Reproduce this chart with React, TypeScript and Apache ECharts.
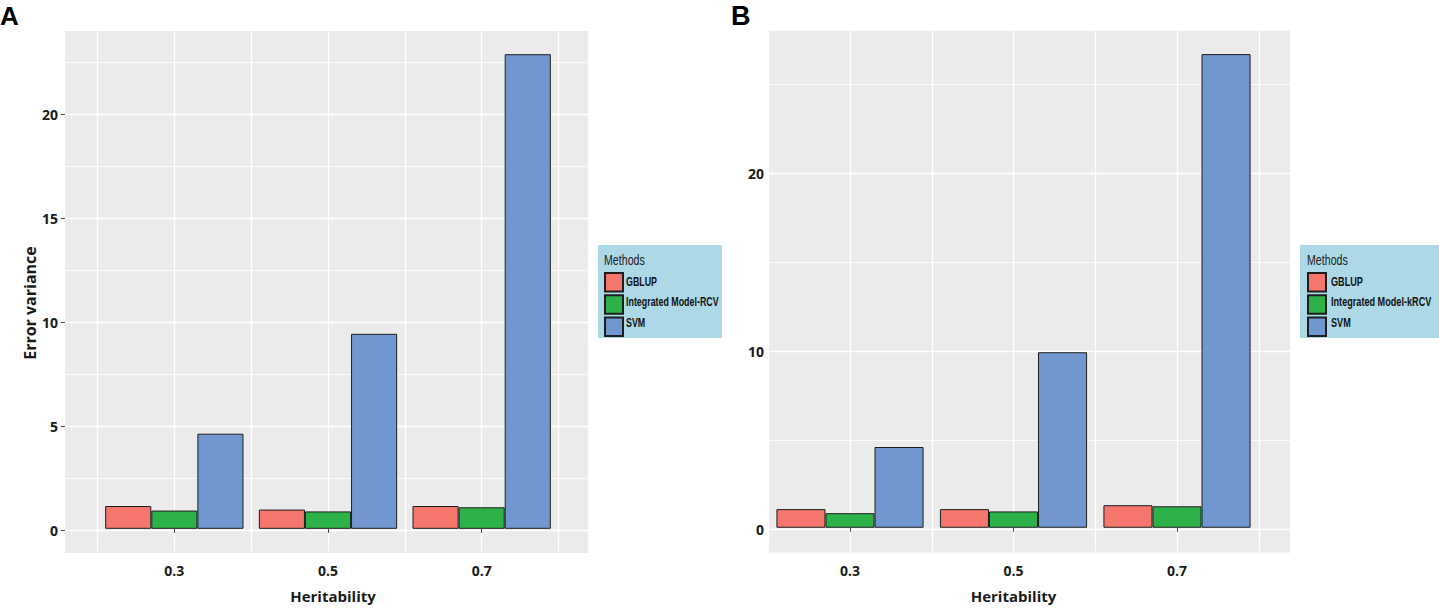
import React, { useEffect, useRef } from "react";
import * as echarts from "echarts";

const categories = ["0.3", "0.5", "0.7"];
const halfBands = ["", "", "", "", "", ""];
const methodsA = ["GBLUP", "Integrated Model-RCV", "SVM"];
const methodsB = ["GBLUP", "Integrated Model-kRCV", "SVM"];

const gblupA = [1.1, 0.93, 1.1];
const integratedA = [0.88, 0.84, 1.04];
const svmA = [4.59, 9.41, 22.9];

const gblupB = [1.05, 1.05, 1.27];
const integratedB = [0.82, 0.92, 1.21];
const svmB = [4.55, 9.89, 26.69];

const yTicksA = [0, 5, 10, 15, 20];
const yMinorA = [2.5, 7.5, 12.5, 17.5, 22.5];
const yRangeA = [-1.07, 24.02];

const yTicksB = [0, 10, 20];
const yMinorB = [5, 15, 25];
const yRangeB = [-1.31, 28.01];

const COLORS = ["#F4766D", "#2DB24A", "#7197D0"];
const TEXT = "#1a1a1a";
const LABEL_FONT = "'Open Sans', 'DejaVu Sans', sans-serif";
const LEGEND_FONT = "'Liberation Sans', Arial, sans-serif";

export default function App() {
  const ref = useRef<HTMLDivElement>(null);

  useEffect(() => {
    document.body.style.margin = "0";
    if (!ref.current) return;
    const chart = echarts.init(ref.current, undefined, { renderer: "svg" });

    const barSeries = (
      names: string[],
      values: number[][],
      xAxisIndex: number,
      yAxisIndex: number
    ) =>
      names.map((name, i) => ({
        type: "bar",
        name,
        xAxisIndex,
        yAxisIndex,
        data: values[i],
        barGap: "0%",
        barCategoryGap: "10%",
        z: 3,
        itemStyle: { color: COLORS[i], borderColor: "#1e1e1e", borderWidth: 1 },
        emphasis: { disabled: true },
      }));

    const minorSeries = (vals: number[], xAxisIndex: number, yAxisIndex: number) => ({
      type: "line",
      xAxisIndex,
      yAxisIndex,
      data: [],
      z: 1,
      silent: true,
      markLine: {
        z: 1,
        silent: true,
        symbol: ["none", "none"],
        label: { show: false },
        lineStyle: { color: "#ffffff", width: 0.8, type: "solid" },
        emphasis: { disabled: true },
        data: vals.map((v) => ({ yAxis: v })),
      },
    });

    const catAxis = (gridIndex: number, namePad: number[]) => ({
      type: "category",
      gridIndex,
      data: categories,
      position: "bottom",
      boundaryGap: true,
      axisLine: { show: false },
      axisTick: { show: true, alignWithLabel: true, length: 4, lineStyle: { color: "#444", width: 1 } },
      axisLabel: { color: TEXT, fontFamily: LABEL_FONT, fontWeight: "bold", fontSize: 14, margin: 12 },
      splitLine: { show: false },
      name: "Heritability",
      nameLocation: "middle",
      nameGap: 37,
      nameTextStyle: { color: TEXT, fontFamily: LABEL_FONT, fontWeight: "bold", fontSize: 15, padding: namePad },
    });

    const halfAxis = (gridIndex: number) => ({
      type: "category",
      gridIndex,
      data: halfBands,
      position: "top",
      boundaryGap: true,
      axisLine: { show: false },
      axisTick: { show: false },
      axisLabel: { show: false },
      splitLine: { show: true, lineStyle: { color: "#ffffff", width: 1.3 } },
    });

    const legendCfg = (names: string[], left: number) => ({
      data: names,
      left,
      top: 272,
      orient: "vertical",
      icon: "rect",
      itemWidth: 18,
      itemHeight: 18.6,
      itemGap: 1.6,
      padding: 0,
      selectedMode: false,
      formatter: () => "",
      textStyle: { fontSize: 1 },
    });

    const legendText = (text: string, x: number, y: number, sx: number) => ({
      type: "text",
      x,
      y,
      scaleX: sx,
      z: 10,
      style: {
        text,
        fill: "#111",
        font: `bold 12.5px ${LEGEND_FONT}`,
        verticalAlign: "middle",
        textAlign: "left",
      },
    });

    const option = {
      animation: false,
      grid: [
        { left: 65, top: 31, width: 523, height: 522, show: true, backgroundColor: "#EBEBEB", borderWidth: 0 },
        { left: 97.5, top: 31, width: 461, height: 522 },
        { left: 768, top: 30.7, width: 522, height: 522, show: true, backgroundColor: "#EBEBEB", borderWidth: 0 },
        { left: 768.25, top: 30.7, width: 490.5, height: 522 },
      ],
      xAxis: [
        { type: "value", gridIndex: 0, min: 0, max: 1, show: false },
        catAxis(1, [0, 0, 0, 10]),
        halfAxis(1),
        { type: "value", gridIndex: 2, min: 0, max: 1, show: false },
        catAxis(3, [0, 0, 0, 0]),
        halfAxis(3),
      ],
      yAxis: [
        {
          type: "value",
          gridIndex: 0,
          min: yRangeA[0],
          max: yRangeA[1],
          axisLine: { show: false },
          axisTick: { show: true, length: 4, customValues: yTicksA, lineStyle: { color: "#444" } },
          axisLabel: {
            customValues: yTicksA,
            color: TEXT,
            fontFamily: LABEL_FONT,
            fontWeight: "bold",
            fontSize: 14,
            margin: 7,
          },
          splitLine: { show: true, lineStyle: { color: "#ffffff", width: 1.3 } },
        },
        { type: "value", gridIndex: 1, min: yRangeA[0], max: yRangeA[1], show: false },
        {
          type: "value",
          gridIndex: 2,
          min: yRangeB[0],
          max: yRangeB[1],
          axisLine: { show: false },
          axisTick: { show: false, customValues: yTicksB },
          axisLabel: {
            customValues: yTicksB,
            color: TEXT,
            fontFamily: LABEL_FONT,
            fontWeight: "bold",
            fontSize: 14,
            margin: 4,
          },
          splitLine: { show: true, lineStyle: { color: "#ffffff", width: 1.3 } },
        },
        { type: "value", gridIndex: 3, min: yRangeB[0], max: yRangeB[1], show: false },
      ],
      legend: [legendCfg(methodsA, 604), legendCfg(methodsB, 1307)],
      graphic: [
        { type: "rect", left: 598, top: 245, shape: { width: 124, height: 93 }, style: { fill: "#ADD8E6" }, z: -1 },
        { type: "rect", left: 1300, top: 245, shape: { width: 139, height: 93 }, style: { fill: "#ADD8E6" }, z: -1 },
        {
          type: "text",
          x: 604,
          y: 260.5,
          scaleX: 0.76,
          z: 10,
          style: { text: "Methods", fill: "#222", font: `14px ${LEGEND_FONT}`, verticalAlign: "middle" },
        },
        {
          type: "text",
          x: 1307,
          y: 260.5,
          scaleX: 0.76,
          z: 10,
          style: { text: "Methods", fill: "#222", font: `14px ${LEGEND_FONT}`, verticalAlign: "middle" },
        },
        legendText(methodsA[0], 626, 281.6, 0.71),
        legendText(methodsA[1], 626, 301.8, 0.71),
        legendText(methodsA[2], 626, 322, 0.71),
        legendText(methodsB[0], 1331, 281.6, 0.73),
        legendText(methodsB[1], 1331, 301.8, 0.73),
        legendText(methodsB[2], 1331, 322, 0.73),
        {
          type: "text",
          x: 30,
          y: 303,
          rotation: Math.PI / 2,
          style: {
            text: "Error variance",
            fill: TEXT,
            font: `bold 16px ${LABEL_FONT}`,
            textAlign: "center",
            verticalAlign: "middle",
          },
        },
        {
          type: "text",
          x: 0,
          y: 16,
          style: { text: "A", fill: "#000", font: "bold 26px 'Liberation Sans', Arial, sans-serif", verticalAlign: "middle" },
        },
        {
          type: "text",
          x: 731,
          y: 15.5,
          style: { text: "B", fill: "#000", font: "bold 27px 'Liberation Sans', Arial, sans-serif", verticalAlign: "middle" },
        },
      ],
      series: [
        ...barSeries(methodsA, [gblupA, integratedA, svmA], 1, 1),
        minorSeries(yMinorA, 0, 0),
        ...barSeries(methodsB, [gblupB, integratedB, svmB], 4, 3),
        minorSeries(yMinorB, 3, 2),
      ],
    };

    chart.setOption(option as any);
    return () => chart.dispose();
  }, []);

  return <div ref={ref} style={{ width: 1439, height: 608 }} />;
}
